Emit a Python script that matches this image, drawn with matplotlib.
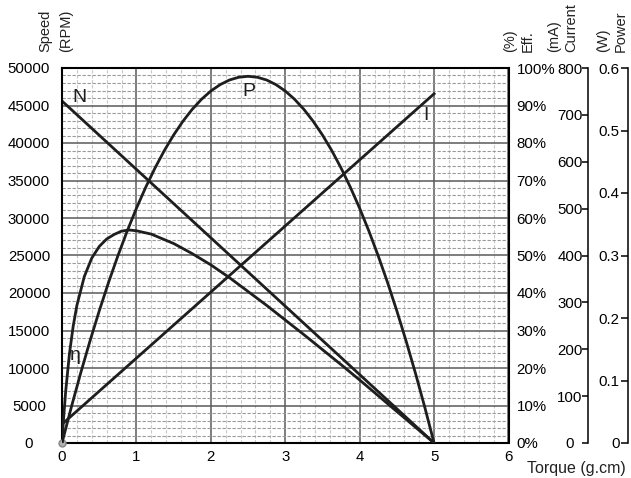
import numpy as np
import matplotlib
matplotlib.use("Agg")
from matplotlib import pyplot as plt

plt.rcParams['font.family'] = ['Liberation Sans', 'DejaVu Sans']

# straight lines: speed (N) and current (I)
torque_line = [0, 5]
speed = [45600, 0]
current = [40, 745]

# output power (P), W
torque_p = [0, 0.125, 0.25, 0.375, 0.5, 0.625, 0.75, 0.875, 1.0, 1.125, 1.25, 1.375,
            1.5, 1.625, 1.75, 1.875, 2.0, 2.125, 2.25, 2.375, 2.5, 2.625, 2.75, 2.875,
            3.0, 3.125, 3.25, 3.375, 3.5, 3.625, 3.75, 3.875, 4.0, 4.125, 4.25, 4.375,
            4.5, 4.625, 4.75, 4.875, 5.0]
power = [0, 0.0572, 0.1115, 0.1628, 0.2112, 0.2567, 0.2992, 0.3388, 0.3755, 0.4092, 0.4400, 0.4679,
         0.4928, 0.5148, 0.5339, 0.5500, 0.5632, 0.5734, 0.5808, 0.5852, 0.5867, 0.5852, 0.5808, 0.5734,
         0.5632, 0.5500, 0.5339, 0.5148, 0.4928, 0.4679, 0.4400, 0.4092, 0.3755, 0.3388, 0.2992, 0.2567,
         0.2112, 0.1628, 0.1115, 0.0572, 0]

# efficiency (eta), %
torque_eff = [0, 0.02, 0.05, 0.1, 0.15, 0.2, 0.3, 0.4, 0.5, 0.6, 0.7, 0.8, 0.9, 1.0,
              1.2, 1.5, 1.75, 2.0, 2.25, 2.5, 2.75, 3.0, 3.25, 3.5, 3.75, 4.0,
              4.25, 4.5, 4.75, 5.0]
eff = [0, 6.2, 13.9, 23.8, 31.1, 36.7, 44.4, 49.3, 52.4, 54.4, 55.6, 56.5, 56.8, 56.6,
       55.7, 53.2, 50.5, 47.5, 44.1, 40.4, 36.7, 32.8, 28.9, 24.9, 20.9, 16.8,
       12.6, 8.4, 4.2, 0]

speed_ticks = list(range(0, 50001, 5000))
eff_ticks = list(range(0, 101, 10))
current_ticks = list(range(0, 801, 100))
power_ticks = [0, 0.1, 0.2, 0.3, 0.4, 0.5, 0.6]
power_labels = ["0", "0.1", "0.2", "0.3", "0.4", "0.5", "0.6"]

fs = 10.8
lc = '#1e1e1e'

fig = plt.figure(figsize=(6.31, 4.78), dpi=100)
W, H = 631, 478
x0, x1, y0, y1 = 62, 508.5, 68, 443
ax = fig.add_axes([x0 / W, (H - y1) / H, (x1 - x0) / W, (y1 - y0) / H])

ax.set_xlim(0, 6)
ax.set_ylim(0, 50000)
ax.set_xticks(range(0, 7))
ax.set_xticks(np.arange(0, 6.01, 0.2), minor=True)
ax.set_yticks(speed_ticks)
ax.set_yticks(range(0, 50001, 1000), minor=True)
ax.set_axisbelow(True)
ax.xaxis.grid(True, which='minor', color='#c8c8c8', lw=0.8, ls=(0, (3, 1.5)))
ax.yaxis.grid(True, which='minor', color='#9a9a9a', lw=0.8, ls=(0, (3, 1.5)))
ax.grid(True, which='major', color='#5a5a5a', lw=1.1, ls='-')
ax.tick_params(which='both', length=0)
ax.tick_params(axis='x', labelsize=fs, pad=5)
ax.tick_params(axis='y', labelsize=fs, pad=23.8)
for lab in ax.get_yticklabels():
    lab.set_ha('center')
for s in ax.spines.values():
    s.set_linewidth(1.5)
    s.set_color('black')

ax.plot(torque_line, speed, color=lc, lw=2)

# efficiency axis (right spine of plot)
eff_ax = ax.twinx()
eff_ax.set_ylim(0, 100)
eff_ax.set_yticks(eff_ticks)
eff_ax.set_yticklabels([f"{v}%" for v in eff_ticks])
eff_ax.tick_params(length=0, pad=5.8, labelsize=fs)
for s in eff_ax.spines.values():
    s.set_visible(False)
eff_ax.plot(torque_eff, eff, color=lc, lw=2)

# current axis
cur_ax = ax.twinx()
cur_ax.set_ylim(0, 800)
for s in cur_ax.spines.values():
    s.set_visible(False)
cur_ax.spines['left'].set_visible(True)
cur_ax.spines['left'].set_position(('axes', (587.5 - x0) / (x1 - x0)))
cur_ax.spines['left'].set_linewidth(1.1)
cur_ax.yaxis.set_ticks_position('left')
cur_ax.yaxis.set_label_position('left')
cur_ax.set_yticks(current_ticks)
cur_ax.tick_params(axis='y', direction='out', left=True, right=False,
                   labelleft=True, labelright=False,
                   length=4.3, width=1.1, pad=8.3, labelsize=fs)
for lab in cur_ax.get_yticklabels():
    lab.set_ha('center')
cur_ax.plot(torque_line, current, color=lc, lw=2)

# power axis
pow_ax = ax.twinx()
pow_ax.set_ylim(0, 0.6)
for s in pow_ax.spines.values():
    s.set_visible(False)
pow_ax.spines['left'].set_visible(True)
pow_ax.spines['left'].set_position(('axes', (628 - x0) / (x1 - x0)))
pow_ax.spines['left'].set_linewidth(1.1)
pow_ax.yaxis.set_ticks_position('left')
pow_ax.set_yticks(power_ticks)
pow_ax.set_yticklabels(power_labels)
pow_ax.tick_params(axis='y', direction='out', left=True, right=False,
                   labelleft=True, labelright=False,
                   length=5, width=1.1, pad=1, labelsize=fs)
pow_ax.plot(torque_p, power, color=lc, lw=2)

ax.plot(0, 0, 'o', ms=5, mfc='#b0b0b0', mec='#888888', clip_on=False, zorder=10)

# curve labels
ax.text(0.24, 46070, "N", fontsize=14, ha='center', va='center', color=lc)
ax.text(2.507, 46930, "P", fontsize=14, ha='center', va='center', color=lc)
ax.text(4.89, 43600, "I", fontsize=14, ha='center', va='center', color=lc)
ax.text(0.18, 11600, "η", fontsize=14, ha='center', va='center', color=lc)

# vertical axis titles
yb = (H - 52.5) / H
for xc, txt in [(45.5, "Speed"), (66, "(RPM)"), (510, "(%)"), (528, "Eff."),
                (554, "(mA)"), (571, "Current"), (603, "(W)"), (621, "Power")]:
    fig.text(xc / W, yb, txt, rotation=90, rotation_mode='anchor',
             ha='left', va='center', fontsize=10.5, color='#222222')

fig.text(527 / W, (H - 469) / H, "Torque (g.cm)", ha='left', va='center',
         fontsize=11.5, color='#222222')

fig.savefig("out.png", dpi=100)
